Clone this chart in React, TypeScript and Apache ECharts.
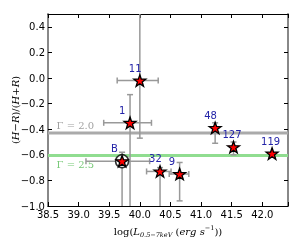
import React, { useEffect, useRef } from "react";
import * as echarts from "echarts";

const labels = ["11", "1", "B", "32", "9", "48", "127", "119"];
const xs = [40.0, 39.84, 39.71, 40.33, 40.65, 41.23, 41.53, 42.16];
const ys = [-0.02, -0.35, -0.65, -0.73, -0.75, -0.39, -0.54, -0.59];
const xLo = [39.63, 39.41, 39.12, 40.11, 40.48, 41.23, 41.53, 42.16];
const xHi = [40.3, 40.19, 40.16, 40.51, 40.8, 41.23, 41.53, 42.16];
const yLo = [-0.47, -1.2, -1.2, -1.2, -0.96, -0.51, -0.6, -0.59];
const yHi = [0.8, -0.13, -0.58, -0.7, -0.66, -0.35, -0.5, -0.59];
const circled = ["B"];

const gammaNames = ["Γ = 2.0", "Γ = 2.5"];
const gammaY = [-0.43, -0.605];
const gammaLabelX = [38.64, 38.64];
const gammaLabelY = [-0.373, -0.677];
const gammaLineColors = ["#aaaaaa", "#90dd90"];
const gammaTextColors = ["#888888", "#55bb55"];

const xTicks = ["38.5", "39.0", "39.5", "40.0", "40.5", "41.0", "41.5", "42.0"];
const yTicks = ["-1.0", "-0.8", "-0.6", "-0.4", "-0.2", "0.0", "0.2", "0.4"];

const X_MIN = 38.5, X_MAX = 42.42, Y_MIN = -1.0, Y_MAX = 0.5;

const STAR =
  "path://M0,-10 L2.35,-3.24 L9.51,-3.09 L3.8,1.24 L5.88,8.09 L0,4 L-5.88,8.09 L-3.8,1.24 L-9.51,-3.09 L-2.35,-3.24 Z";

const fmtNum = (v: number, list: string[]) => {
  const hit = list.find((t) => Math.abs(parseFloat(t) - v) < 1e-6);
  return hit ? hit.replace("-", "\u2212") : "";
};

export default function App() {
  const ref = useRef<HTMLDivElement>(null);
  useEffect(() => {
    if (!ref.current) return;
    const chart = echarts.init(ref.current, null, { renderer: "svg" });
    const errData = labels.map((_, i) => [xs[i], ys[i], xLo[i], xHi[i], yLo[i], yHi[i]]);
    const cap = 3;
    const serif = "DejaVu Serif";
    const sans = "DejaVu Sans";
    const errStyle = { stroke: "#999999", lineWidth: 1.5 };
    const hlineSeries = gammaY.map((gy, i) => ({
      type: "line",
      data: [
        [X_MIN, gy],
        [X_MAX, gy],
      ],
      symbol: "none",
      lineStyle: { color: gammaLineColors[i], width: 3 },
      silent: true,
      z: 1,
    }));
    const option: any = {
      animation: false,
      grid: { left: 48, right: 12, top: 14, bottom: 34, outerBoundsMode: "none", containLabel: false },
      xAxis: [
        {
          type: "value",
          min: X_MIN,
          max: X_MAX,
          interval: 0.5,
          position: "bottom",
          axisLine: { show: true, onZero: false, lineStyle: { color: "#000", width: 1 } },
          axisTick: { show: true, inside: true, length: 4, lineStyle: { color: "#000" } },
          axisLabel: {
            color: "#000",
            fontFamily: sans,
            fontSize: 10,
            margin: 3,
            formatter: (v: number) => fmtNum(v, xTicks),
          },
          splitLine: { show: false },
          name:
            "{n|log(}{i|L}{sub|0.5\u22127keV}{n| (}{i|erg s}{sup|\u22121}{n|))}",
          nameLocation: "middle",
          nameGap: 18,
          nameMoveOverlap: false,
          nameTextStyle: {
            rich: {
              n: { fontFamily: serif, fontSize: 10, color: "#000", lineHeight: 14 },
              i: { fontFamily: serif, fontStyle: "italic", fontSize: 10, color: "#000", lineHeight: 14 },
              sub: { fontFamily: serif, fontStyle: "italic", fontSize: 6.5, color: "#000", verticalAlign: "bottom", lineHeight: 8 },
              sup: { fontFamily: serif, fontSize: 6.5, color: "#000", verticalAlign: "top", lineHeight: 8 },
            },
          },
        },
        {
          type: "value",
          min: X_MIN,
          max: X_MAX,
          interval: 0.5,
          position: "top",
          axisLine: { show: true, onZero: false, lineStyle: { color: "#000", width: 1 } },
          axisTick: { show: true, inside: true, length: 4, lineStyle: { color: "#000" } },
          axisLabel: { show: false },
          splitLine: { show: false },
        },
      ],
      yAxis: [
        {
          type: "value",
          min: Y_MIN,
          max: Y_MAX,
          interval: 0.2,
          position: "left",
          axisLine: { show: true, onZero: false, lineStyle: { color: "#888888", width: 2 } },
          axisTick: { show: true, inside: true, length: 4, lineStyle: { color: "#000" } },
          axisLabel: {
            color: "#000",
            fontFamily: sans,
            fontSize: 10,
            margin: 3,
            formatter: (v: number) => fmtNum(v, yTicks),
          },
          splitLine: { show: false },
          name: "{n|(}{i|H}{n|\u2212}{i|R}{n|)/(}{i|H}{n|+}{i|R}{n|)}",
          nameLocation: "middle",
          nameGap: 28,
          nameMoveOverlap: false,
          nameTextStyle: {
            rich: {
              n: { fontFamily: serif, fontSize: 10, color: "#000" },
              i: { fontFamily: serif, fontStyle: "italic", fontSize: 10, color: "#000" },
            },
          },
        },
        {
          type: "value",
          min: Y_MIN,
          max: Y_MAX,
          interval: 0.2,
          position: "right",
          axisLine: { show: true, onZero: false, lineStyle: { color: "#888888", width: 2 } },
          axisTick: { show: true, inside: true, length: 4, lineStyle: { color: "#000" } },
          axisLabel: { show: false },
          splitLine: { show: false },
        },
      ],
      series: [
        ...hlineSeries,
        {
          type: "scatter",
          symbolSize: 0,
          silent: true,
          z: 2,
          data: gammaNames.map((n, i) => ({
            value: [gammaLabelX[i], gammaLabelY[i]],
            name: n,
            label: {
              show: true,
              position: "inside",
              align: "left",
              verticalAlign: "middle",
              formatter: n,
              fontFamily: serif,
              fontSize: 10,
              color: gammaTextColors[i],
            },
          })),
        },
        {
          type: "custom",
          clip: true,
          z: 3,
          silent: true,
          data: errData,
          renderItem: (params: any, api: any) => {
            const x = api.value(0), y = api.value(1);
            const xl = api.value(2), xh = api.value(3);
            const yl = api.value(4), yh = api.value(5);
            const children: any[] = [];
            if (xh > xl) {
              const a = api.coord([xl, y]);
              const b = api.coord([xh, y]);
              children.push({ type: "line", shape: { x1: a[0], y1: a[1], x2: b[0], y2: b[1] }, style: errStyle });
              children.push({ type: "line", shape: { x1: a[0], y1: a[1] - cap, x2: a[0], y2: a[1] + cap }, style: errStyle });
              children.push({ type: "line", shape: { x1: b[0], y1: b[1] - cap, x2: b[0], y2: b[1] + cap }, style: errStyle });
            }
            if (yh > yl) {
              const a = api.coord([x, yl]);
              const b = api.coord([x, yh]);
              children.push({ type: "line", shape: { x1: a[0], y1: a[1], x2: b[0], y2: b[1] }, style: errStyle });
              children.push({ type: "line", shape: { x1: a[0] - cap, y1: a[1], x2: a[0] + cap, y2: a[1] }, style: errStyle });
              children.push({ type: "line", shape: { x1: b[0] - cap, y1: b[1], x2: b[0] + cap, y2: b[1] }, style: errStyle });
            }
            return { type: "group", children };
          },
        },
        {
          type: "scatter",
          z: 4,
          silent: true,
          symbol: "circle",
          symbolSize: 13,
          itemStyle: { color: "#ffffff", borderColor: "#000", borderWidth: 1.5 },
          data: labels
            .map((l, i) => (circled.includes(l) ? [xs[i], ys[i]] : null))
            .filter((d) => d !== null),
        },
        {
          type: "scatter",
          z: 5,
          silent: true,
          symbol: STAR,
          symbolSize: [12, 11.5],
          itemStyle: { color: "#ff0000", borderColor: "#000", borderWidth: 1.3, opacity: 1 },
          emphasis: { disabled: true },
          data: labels.map((l, i) => ({ value: [xs[i], ys[i]], name: l })),
          label: {
            show: true,
            position: "inside",
            align: "left",
            verticalAlign: "middle",
            offset: [-11, -12.5],
            formatter: (p: any) => p.name,
            fontFamily: sans,
            fontSize: 10,
            color: "#2323a8",
          },
        },
      ],
    };
    chart.setOption(option);
    return () => chart.dispose();
  }, []);
  return (
    <div
      ref={ref}
      style={{ position: "fixed", left: 0, top: 0, width: 300, height: 240 }}
    />
  );
}
